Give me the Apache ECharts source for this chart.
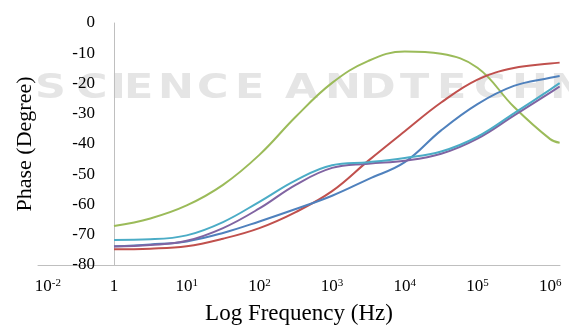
<!DOCTYPE html>
<html><head><meta charset="utf-8">
<script src="https://cdn.jsdelivr.net/npm/echarts@6/dist/echarts.min.js"></script>
<style>html,body{margin:0;padding:0;background:#fff}#c{width:569px;height:327px}</style>
</head><body><div id="c"></div>
<script>
// log10(frequency) positions
const logFreq = [0, 0.5, 1, 1.5, 2, 2.5, 3, 3.5, 4, 4.5, 5, 5.5, 6, 6.13];
const greenSeries  = [-67.1, -64.6, -60.3, -53.5, -43.6, -31.0, -19.8, -12.5, -9.4, -10.2, -14.8, -27.7, -38.4, -39.6];
const redSeries    = [-74.8, -74.6, -73.8, -71.3, -67.8, -62.5, -55.6, -45.5, -35.8, -26.3, -18.7, -14.9, -13.4, -13.1];
const blueSeries   = [-73.8, -73.2, -72.2, -69.4, -65.6, -61.5, -57.1, -51.6, -46.0, -35.5, -26.8, -20.8, -18.1, -17.5];
const purpleSeries = [-73.9, -73.4, -72.0, -67.8, -61.3, -53.5, -47.9, -46.5, -45.5, -43.2, -38.2, -30.6, -23.0, -21.0];
const cyanSeries   = [-71.7, -71.5, -70.2, -65.8, -59.1, -52.0, -47.0, -46.0, -44.6, -42.5, -37.6, -29.9, -22.0, -19.9];

// tick labels
const xTickValues = [-0.91, 0, 1, 2, 3, 4, 5, 6];
const xTickBase   = ['10', '1', '10', '10', '10', '10', '10', '10'];
const xTickExp    = ['-2', '', '1', '2', '3', '4', '5', '6'];
const yTicks = [0, -10, -20, -30, -40, -50, -60, -70, -80];

const pair = arr => logFreq.map((x, i) => [x, arr[i]]);

// watermark letters (decoration)
const wmWords = [
  {t: 'SCIENCE', x: [35, 76, 110, 124, 158, 197, 235]},
  {t: 'AND', x: [285, 325, 360]},
  {t: 'TECHN', x: [400, 437, 474, 512, 550]}
];
const wm = [];
wmWords.forEach(w => w.t.split('').forEach((ch, i) => wm.push({
  type: 'text', x: w.x[i], y: 73, scaleX: 1.3, z: -10, silent: true,
  style: {text: ch, fill: '#e5e5e5', font: 'bold 33px "DejaVu Sans"'}
})));

const chart = echarts.init(document.getElementById('c'), null, {renderer: 'canvas'});
const serif = '"Liberation Serif", "Times New Roman", serif';
const mk = (name, data, color) => ({
  name, type: 'line', data: pair(data), smooth: 0.4, symbol: 'none', z: 5,
  lineStyle: {color, width: 2}, itemStyle: {color}
});
chart.setOption({
  backgroundColor: '#ffffff',
  animation: false,
  graphic: wm,
  grid: {left: 38, right: 9, top: 23, bottom: 62, containLabel: false, outerBoundsMode: 'none'},
  xAxis: {
    type: 'value', min: -1.045, max: 6.135,
    name: 'Log Frequency (Hz)', nameLocation: 'middle', nameGap: 37,
    nameTextStyle: {fontFamily: serif, fontSize: 23, color: '#000'},
    axisLine: {onZero: false, lineStyle: {color: '#bfbfbf', width: 1}},
    axisTick: {show: false},
    splitLine: {show: false},
    axisLabel: {
      customValues: xTickValues, margin: 13,
      formatter: v => {
        let i = xTickValues.findIndex(t => Math.abs(t - v) < 1e-6);
        if (i < 0) return '';
        return xTickExp[i] ? '{b|' + xTickBase[i] + '}{s|' + xTickExp[i] + '}' : '{b|' + xTickBase[i] + '}';
      },
      rich: {
        b: {fontFamily: serif, fontSize: 17, color: '#000'},
        s: {fontFamily: serif, fontSize: 11, color: '#000', verticalAlign: 'top', padding: [0, 0, 7, 0]}
      }
    }
  },
  yAxis: {
    type: 'value', min: -80, max: 0, interval: 10, offset: -76,
    name: 'Phase (Degree)', nameLocation: 'middle', nameGap: 78, nameRotate: 90,
    nameTextStyle: {fontFamily: serif, fontSize: 22, color: '#000'},
    axisLine: {show: true, onZero: false, lineStyle: {color: '#bfbfbf', width: 1}},
    axisTick: {show: false},
    splitLine: {show: false},
    axisLabel: {fontFamily: serif, fontSize: 17, color: '#000', margin: 19,
      formatter: v => yTicks.includes(v) ? String(v) : ''}
  },
  series: [
    mk('green', greenSeries, '#9BBB59'),
    mk('red', redSeries, '#C0504D'),
    mk('blue', blueSeries, '#4F81BD'),
    mk('purple', purpleSeries, '#8064A2'),
    mk('cyan', cyanSeries, '#4BACC6')
  ]
});
</script></body></html>
